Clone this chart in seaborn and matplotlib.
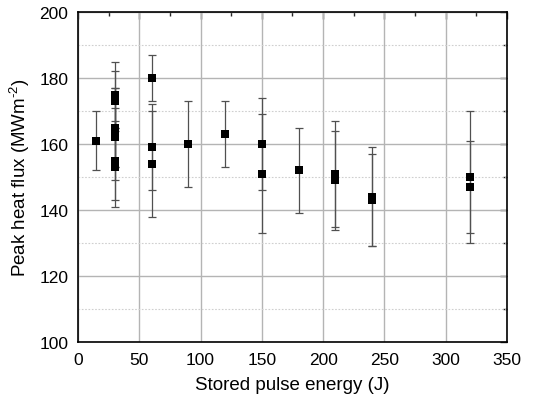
import matplotlib
matplotlib.use("Agg")
import matplotlib.pyplot as plt
from matplotlib.ticker import MultipleLocator, NullFormatter
import seaborn as sns
import pandas as pd

# Stored pulse energy (J), peak heat flux (MW m^-2) and its uncertainty
energy = [15, 30, 30, 30, 30, 30, 30, 30, 60, 60, 60, 90, 120, 150, 150, 180, 210, 210, 240, 240, 320, 320]
flux = [161, 175, 173, 165, 163, 162, 155, 153, 180, 159, 154, 160, 163, 160, 151, 152, 151, 149, 144, 143, 150, 147]
flux_err = [9, 10, 9, 12, 14, 9, 12, 12, 7, 13, 16, 13, 10, 14, 18, 13, 16, 15, 15, 14, 20, 14]

df = pd.DataFrame({"energy": energy, "flux": flux, "err": flux_err})

sns.set_style("white")
plt.rcParams["font.family"] = ["Liberation Sans", "DejaVu Sans"]
plt.rcParams["mathtext.fontset"] = "custom"
plt.rcParams["mathtext.rm"] = "Liberation Sans"
plt.rcParams["mathtext.default"] = "regular"
plt.rcParams["text.color"] = "black"
plt.rcParams["axes.labelcolor"] = "black"

fig = plt.figure(figsize=(5.55, 4.14), dpi=100)
ax = fig.add_axes([0.1405, 0.1715, 0.773, 0.797])

ax.errorbar(df["energy"], df["flux"], yerr=df["err"], fmt="none",
            ecolor="#505050", elinewidth=0.9, capsize=3.2, capthick=0.9, zorder=3)
sns.scatterplot(data=df, x="energy", y="flux", marker="s", s=36, color="black",
                edgecolor="black", linewidth=0, ax=ax, zorder=4)

ax.set_xlim(0, 350)
ax.set_ylim(100, 200)
ax.xaxis.set_major_locator(MultipleLocator(50))
ax.xaxis.set_minor_locator(MultipleLocator(25))
ax.yaxis.set_major_locator(MultipleLocator(20))
ax.yaxis.set_minor_locator(MultipleLocator(10))

ax.grid(True, which="major", color="#b4b4b4", linewidth=1.0, linestyle="-")
ax.grid(True, which="minor", axis="y", color="#cfcfcf", linewidth=0.8, linestyle=(0, (1.5, 1.5)))
ax.set_axisbelow(True)

for side in ["left", "bottom", "top", "right"]:
    ax.spines[side].set_visible(True)
    ax.spines[side].set_color("black")
    ax.spines[side].set_linewidth(1.2)

ax.tick_params(which="major", direction="out", length=5, width=1, colors="black",
               labelsize=12.5, pad=2)
ax.tick_params(which="minor", direction="out", length=3, width=1, colors="black")

# Inward ticks on the top and right spines
top = ax.secondary_xaxis("top")
top.xaxis.set_major_locator(MultipleLocator(50))
top.xaxis.set_minor_locator(MultipleLocator(25))
top.xaxis.set_major_formatter(NullFormatter())
top.tick_params(which="major", direction="in", length=5, width=1)
top.tick_params(which="minor", direction="in", length=3, width=1)
top.spines["top"].set_visible(False)

right = ax.secondary_yaxis("right")
right.yaxis.set_major_locator(MultipleLocator(20))
right.yaxis.set_minor_locator(MultipleLocator(10))
right.yaxis.set_major_formatter(NullFormatter())
right.tick_params(which="major", direction="in", length=5, width=1)
right.tick_params(which="minor", direction="in", length=3, width=1)
right.spines["right"].set_visible(False)

ax.set_xlabel("Stored pulse energy (J)", fontsize=13.5, labelpad=7)
ax.set_ylabel(r"Peak heat flux (MWm$^{\text{-2}}$)", fontsize=13.5, labelpad=5)

fig.savefig("out.png", dpi=100)
